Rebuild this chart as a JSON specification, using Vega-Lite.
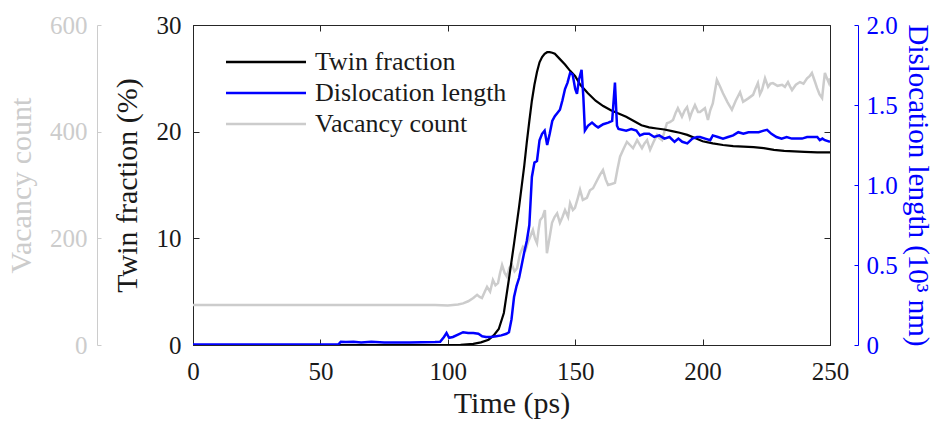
{
  "$schema": "https://vega.github.io/schema/vega-lite/v6.json",
  "width": 637,
  "height": 320,
  "autosize": {"type": "none"},
  "padding": {"left": 193, "top": 25, "right": 108, "bottom": 81},
  "config": {
    "view": {"stroke": "#262626", "strokeWidth": 1},
    "font": "Liberation Serif",
    "axis": {
      "grid": false,
      "labelFont": "Liberation Serif",
      "titleFont": "Liberation Serif",
      "labelFontSize": 25,
      "titleFontSize": 30,
      "titleFontWeight": "normal",
      "labelFlush": false,
      "labelOverlap": false,
      "tickSize": -6,
      "domainColor": "#262626",
      "tickColor": "#262626",
      "labelColor": "#1a1a1a",
      "titleColor": "#1a1a1a"
    },
    "legend": {
      "orient": "none",
      "legendX": 60,
      "legendY": 24,
      "title": null,
      "symbolType": "M-4,0H4",
      "symbolSize": 400,
      "symbolStrokeWidth": 2.5,
      "labelFont": "Liberation Serif",
      "labelFontSize": 26,
      "labelLimit": 0,
      "labelColor": "#1a1a1a",
      "labelOffset": 36,
      "rowPadding": 5
    }
  },
  "datasets": {
    "twin": [
      {"t": 0, "v": 0}, {"t": 50, "v": 0}, {"t": 100, "v": 0}, {"t": 105, "v": 0.02}, {"t": 110, "v": 0.1},
      {"t": 113, "v": 0.25}, {"t": 116, "v": 0.5}, {"t": 118, "v": 0.9}, {"t": 120, "v": 1.5}, {"t": 122, "v": 3},
      {"t": 124, "v": 6.2}, {"t": 126, "v": 9.5}, {"t": 128, "v": 13}, {"t": 130, "v": 16.8}, {"t": 131, "v": 19},
      {"t": 132, "v": 21}, {"t": 133, "v": 22.9}, {"t": 134, "v": 24.4}, {"t": 135, "v": 25.6}, {"t": 136, "v": 26.5},
      {"t": 137, "v": 27.0}, {"t": 138, "v": 27.3}, {"t": 139, "v": 27.45}, {"t": 140, "v": 27.45}, {"t": 141, "v": 27.4},
      {"t": 142, "v": 27.3}, {"t": 144, "v": 26.8}, {"t": 146, "v": 26.3}, {"t": 148, "v": 25.7}, {"t": 150, "v": 25.2},
      {"t": 152, "v": 24.4}, {"t": 155, "v": 23.6}, {"t": 158, "v": 22.9}, {"t": 161, "v": 22.4}, {"t": 164, "v": 22.0},
      {"t": 167, "v": 21.7}, {"t": 170, "v": 21.4}, {"t": 173, "v": 21.0}, {"t": 176, "v": 20.6}, {"t": 179, "v": 20.4},
      {"t": 182, "v": 20.3}, {"t": 185, "v": 20.2}, {"t": 188, "v": 20.05}, {"t": 191, "v": 19.9}, {"t": 194, "v": 19.7},
      {"t": 197, "v": 19.4}, {"t": 200, "v": 19.1}, {"t": 204, "v": 18.9}, {"t": 208, "v": 18.75}, {"t": 212, "v": 18.65},
      {"t": 216, "v": 18.6}, {"t": 220, "v": 18.55}, {"t": 224, "v": 18.45}, {"t": 228, "v": 18.3}, {"t": 232, "v": 18.2},
      {"t": 236, "v": 18.15}, {"t": 240, "v": 18.1}, {"t": 245, "v": 18.05}, {"t": 250, "v": 18.05}
    ],
    "disl": [
      {"t": 0, "v": 0.003}, {"t": 57, "v": 0.003}, {"t": 58, "v": 0.02}, {"t": 60, "v": 0.018}, {"t": 63, "v": 0.02},
      {"t": 66, "v": 0.015}, {"t": 70, "v": 0.02}, {"t": 75, "v": 0.015}, {"t": 80, "v": 0.016}, {"t": 85, "v": 0.015},
      {"t": 90, "v": 0.017}, {"t": 95, "v": 0.018}, {"t": 97, "v": 0.02}, {"t": 98.5, "v": 0.05}, {"t": 99.5, "v": 0.075},
      {"t": 100.5, "v": 0.045}, {"t": 102, "v": 0.05}, {"t": 104, "v": 0.065}, {"t": 106, "v": 0.08}, {"t": 108, "v": 0.075},
      {"t": 110, "v": 0.075}, {"t": 112, "v": 0.07}, {"t": 113.5, "v": 0.055}, {"t": 115, "v": 0.05}, {"t": 117, "v": 0.05},
      {"t": 119, "v": 0.055}, {"t": 121, "v": 0.06}, {"t": 123, "v": 0.07}, {"t": 124, "v": 0.08}, {"t": 125, "v": 0.16},
      {"t": 126, "v": 0.3}, {"t": 127, "v": 0.37}, {"t": 128, "v": 0.42}, {"t": 129, "v": 0.5}, {"t": 130, "v": 0.58},
      {"t": 131, "v": 0.65}, {"t": 132, "v": 0.75}, {"t": 133, "v": 1.05}, {"t": 134, "v": 1.14}, {"t": 135, "v": 1.15},
      {"t": 136, "v": 1.28}, {"t": 137, "v": 1.32}, {"t": 138, "v": 1.34}, {"t": 139, "v": 1.25}, {"t": 140, "v": 1.32},
      {"t": 141, "v": 1.40}, {"t": 142, "v": 1.43}, {"t": 143, "v": 1.45}, {"t": 144, "v": 1.47}, {"t": 145, "v": 1.53},
      {"t": 146, "v": 1.6}, {"t": 147, "v": 1.64}, {"t": 148, "v": 1.7}, {"t": 149, "v": 1.69}, {"t": 150, "v": 1.6},
      {"t": 150.7, "v": 1.57}, {"t": 151.5, "v": 1.66}, {"t": 152.5, "v": 1.72}, {"t": 153.2, "v": 1.55}, {"t": 153.8, "v": 1.34},
      {"t": 155, "v": 1.37}, {"t": 156.6, "v": 1.39}, {"t": 158, "v": 1.37}, {"t": 159, "v": 1.36}, {"t": 161, "v": 1.38},
      {"t": 163, "v": 1.39}, {"t": 164.5, "v": 1.40}, {"t": 165.6, "v": 1.64}, {"t": 166.4, "v": 1.37}, {"t": 167, "v": 1.35},
      {"t": 170, "v": 1.34}, {"t": 172, "v": 1.35}, {"t": 174, "v": 1.34}, {"t": 175.4, "v": 1.31}, {"t": 177, "v": 1.32},
      {"t": 179, "v": 1.32}, {"t": 181, "v": 1.30}, {"t": 183, "v": 1.31}, {"t": 185, "v": 1.29}, {"t": 187, "v": 1.30},
      {"t": 189, "v": 1.27}, {"t": 190.5, "v": 1.29}, {"t": 192, "v": 1.27}, {"t": 194, "v": 1.26}, {"t": 196, "v": 1.29},
      {"t": 197.8, "v": 1.30}, {"t": 199, "v": 1.30}, {"t": 201, "v": 1.29}, {"t": 203, "v": 1.28}, {"t": 204, "v": 1.31},
      {"t": 206, "v": 1.30}, {"t": 208, "v": 1.29}, {"t": 210, "v": 1.30}, {"t": 212, "v": 1.31}, {"t": 214, "v": 1.33},
      {"t": 216, "v": 1.32}, {"t": 218, "v": 1.33}, {"t": 220, "v": 1.33}, {"t": 222, "v": 1.33}, {"t": 224, "v": 1.34},
      {"t": 225.3, "v": 1.345}, {"t": 227, "v": 1.32}, {"t": 229, "v": 1.30}, {"t": 231, "v": 1.29}, {"t": 233, "v": 1.30},
      {"t": 235, "v": 1.29}, {"t": 237, "v": 1.29}, {"t": 239, "v": 1.29}, {"t": 241, "v": 1.30}, {"t": 243, "v": 1.30},
      {"t": 245, "v": 1.30}, {"t": 246, "v": 1.28}, {"t": 247, "v": 1.29}, {"t": 248, "v": 1.28}, {"t": 250, "v": 1.27}
    ],
    "vac": [
      {"t": 0, "v": 75}, {"t": 50, "v": 75}, {"t": 95, "v": 75}, {"t": 100, "v": 74}, {"t": 104, "v": 76},
      {"t": 106, "v": 78}, {"t": 108, "v": 82}, {"t": 110, "v": 88}, {"t": 111.5, "v": 94}, {"t": 112.5, "v": 90},
      {"t": 113.4, "v": 88}, {"t": 114.5, "v": 100}, {"t": 115.4, "v": 109}, {"t": 116.6, "v": 100}, {"t": 117.7, "v": 122},
      {"t": 118.7, "v": 112}, {"t": 119.7, "v": 116}, {"t": 120.5, "v": 135}, {"t": 121.3, "v": 150}, {"t": 122.3, "v": 135},
      {"t": 123.2, "v": 128}, {"t": 124.2, "v": 145}, {"t": 125.2, "v": 150}, {"t": 126.2, "v": 138}, {"t": 127.2, "v": 144},
      {"t": 128.3, "v": 170}, {"t": 129.5, "v": 184}, {"t": 130.5, "v": 178}, {"t": 131.5, "v": 193}, {"t": 132.5, "v": 205},
      {"t": 133.4, "v": 216}, {"t": 134.2, "v": 200}, {"t": 135, "v": 191}, {"t": 135.6, "v": 215}, {"t": 136.2, "v": 234},
      {"t": 137.2, "v": 240}, {"t": 138.1, "v": 253}, {"t": 138.9, "v": 172}, {"t": 139.9, "v": 200}, {"t": 140.9, "v": 229},
      {"t": 141.9, "v": 240}, {"t": 142.9, "v": 247}, {"t": 144, "v": 229}, {"t": 145, "v": 240}, {"t": 146, "v": 253},
      {"t": 147.2, "v": 240}, {"t": 148, "v": 266}, {"t": 149.1, "v": 253}, {"t": 149.9, "v": 257}, {"t": 151, "v": 275},
      {"t": 151.9, "v": 291}, {"t": 153, "v": 272}, {"t": 154.6, "v": 276}, {"t": 155.8, "v": 290}, {"t": 157, "v": 294},
      {"t": 158.6, "v": 309}, {"t": 159.7, "v": 319}, {"t": 160.9, "v": 328}, {"t": 162, "v": 310}, {"t": 162.9, "v": 300},
      {"t": 164.3, "v": 302}, {"t": 165.6, "v": 304}, {"t": 166.6, "v": 330}, {"t": 167.6, "v": 353}, {"t": 169, "v": 368},
      {"t": 170.3, "v": 381}, {"t": 171.5, "v": 375}, {"t": 172.7, "v": 369}, {"t": 174.3, "v": 384}, {"t": 175.3, "v": 376},
      {"t": 176.2, "v": 369}, {"t": 177.2, "v": 378}, {"t": 178.2, "v": 384}, {"t": 179.4, "v": 366}, {"t": 180.7, "v": 380},
      {"t": 182.1, "v": 394}, {"t": 183, "v": 388}, {"t": 184.1, "v": 384}, {"t": 185, "v": 400}, {"t": 186, "v": 416},
      {"t": 187.2, "v": 418}, {"t": 188.4, "v": 422}, {"t": 189.4, "v": 435}, {"t": 190.3, "v": 444}, {"t": 191.9, "v": 428},
      {"t": 193, "v": 440}, {"t": 193.9, "v": 446}, {"t": 195, "v": 426}, {"t": 195.8, "v": 437}, {"t": 197, "v": 450},
      {"t": 198.2, "v": 437}, {"t": 199, "v": 437}, {"t": 200.9, "v": 444}, {"t": 202.1, "v": 422}, {"t": 203, "v": 440},
      {"t": 204, "v": 453}, {"t": 205.6, "v": 497}, {"t": 206.8, "v": 485}, {"t": 208, "v": 472}, {"t": 209.8, "v": 455},
      {"t": 211.5, "v": 441}, {"t": 213, "v": 458}, {"t": 214.7, "v": 474}, {"t": 215.9, "v": 456}, {"t": 217.8, "v": 462},
      {"t": 219.8, "v": 469}, {"t": 220.7, "v": 480}, {"t": 221.7, "v": 491}, {"t": 222.5, "v": 470}, {"t": 223.3, "v": 478},
      {"t": 224.5, "v": 500}, {"t": 225.7, "v": 484}, {"t": 226.6, "v": 490}, {"t": 227.6, "v": 491}, {"t": 229.4, "v": 486},
      {"t": 231.2, "v": 488}, {"t": 232.3, "v": 484}, {"t": 233.5, "v": 493}, {"t": 234.3, "v": 485}, {"t": 235.1, "v": 478},
      {"t": 236.6, "v": 488}, {"t": 238.2, "v": 493}, {"t": 239.6, "v": 490}, {"t": 241, "v": 500}, {"t": 242, "v": 504},
      {"t": 242.9, "v": 510}, {"t": 244, "v": 495}, {"t": 244.9, "v": 482}, {"t": 245.9, "v": 470}, {"t": 246.9, "v": 463},
      {"t": 247.5, "v": 490}, {"t": 248, "v": 510}, {"t": 248.8, "v": 500}, {"t": 249.6, "v": 491}, {"t": 250, "v": 500}
    ]
  },
  "layer": [
    {
      "data": {"name": "vac"},
      "mark": {"type": "line", "strokeWidth": 2.5, "clip": true},
      "encoding": {
        "x": {"field": "t", "type": "quantitative", "scale": {"domain": [0, 250], "nice": false}, "axis": null},
        "y": {"field": "v", "type": "quantitative", "scale": {"domain": [0, 600], "nice": false},
          "axis": {"orient": "left", "offset": 96, "values": [0, 200, 400, 600], "title": "Vacancy count",
            "tickSize": -4,
            "domainColor": "#cccccc", "tickColor": "#cccccc", "labelColor": "#cccccc", "titleColor": "#cccccc",
            "labelPadding": 14, "titlePadding": 13}},
        "color": {"datum": "Vacancy count", "type": "nominal",
          "scale": {"domain": ["Twin fraction", "Dislocation length", "Vacancy count"], "range": ["#000000", "#0000ff", "#cccccc"]},
          "legend": {"orient": "none", "legendX": 60, "legendY": 24, "title": null}}
      }
    },
    {
      "data": {"name": "twin"},
      "mark": {"type": "line", "strokeWidth": 2.2, "clip": true},
      "encoding": {
        "x": {"field": "t", "type": "quantitative", "scale": {"domain": [0, 250], "nice": false},
          "axis": {"orient": "bottom", "values": [0, 50, 100, 150, 200, 250], "title": "Time (ps)", "labelPadding": 20, "titlePadding": 4}},
        "y": {"field": "v", "type": "quantitative", "scale": {"domain": [0, 30], "nice": false},
          "axis": {"orient": "left", "values": [0, 10, 20, 30], "title": "Twin fraction (%)", "labelPadding": 18, "titlePadding": 14}},
        "color": {"datum": "Twin fraction", "type": "nominal"}
      }
    },
    {
      "data": {"name": "disl"},
      "mark": {"type": "line", "strokeWidth": 2.5, "clip": true},
      "encoding": {
        "x": {"field": "t", "type": "quantitative", "scale": {"domain": [0, 250], "nice": false}, "axis": null},
        "y": {"field": "v", "type": "quantitative", "scale": {"domain": [0, 2], "nice": false},
          "axis": {"orient": "right", "offset": 28, "values": [0, 0.5, 1, 1.5, 2], "title": "Dislocation length (10³ nm)",
            "labelExpr": "datum.value == 0 ? '0' : format(datum.value, '.1f')",
            "tickSize": -4, "titleFontSize": 29,
            "domainColor": "#0000ff", "tickColor": "#0000ff", "labelColor": "#0000ff", "titleColor": "#0000ff",
            "labelPadding": 12, "titlePadding": 5}},
        "color": {"datum": "Dislocation length", "type": "nominal"}
      }
    },
    {
      "data": {"name": "twin"},
      "mark": {"type": "line", "opacity": 0, "color": "#000000"},
      "encoding": {
        "x": {"field": "t", "type": "quantitative", "scale": {"domain": [0, 250], "nice": false},
          "axis": {"orient": "top", "values": [0, 50, 100, 150, 200, 250], "labels": false, "title": null, "domain": false}},
        "y": {"field": "v", "type": "quantitative", "scale": {"domain": [0, 30], "nice": false},
          "axis": {"orient": "right", "values": [0, 10, 20, 30], "labels": false, "title": null, "domain": false}}
      }
    }
  ],
  "resolve": {"scale": {"y": "independent"}, "axis": {"x": "independent", "y": "independent"}}
}
